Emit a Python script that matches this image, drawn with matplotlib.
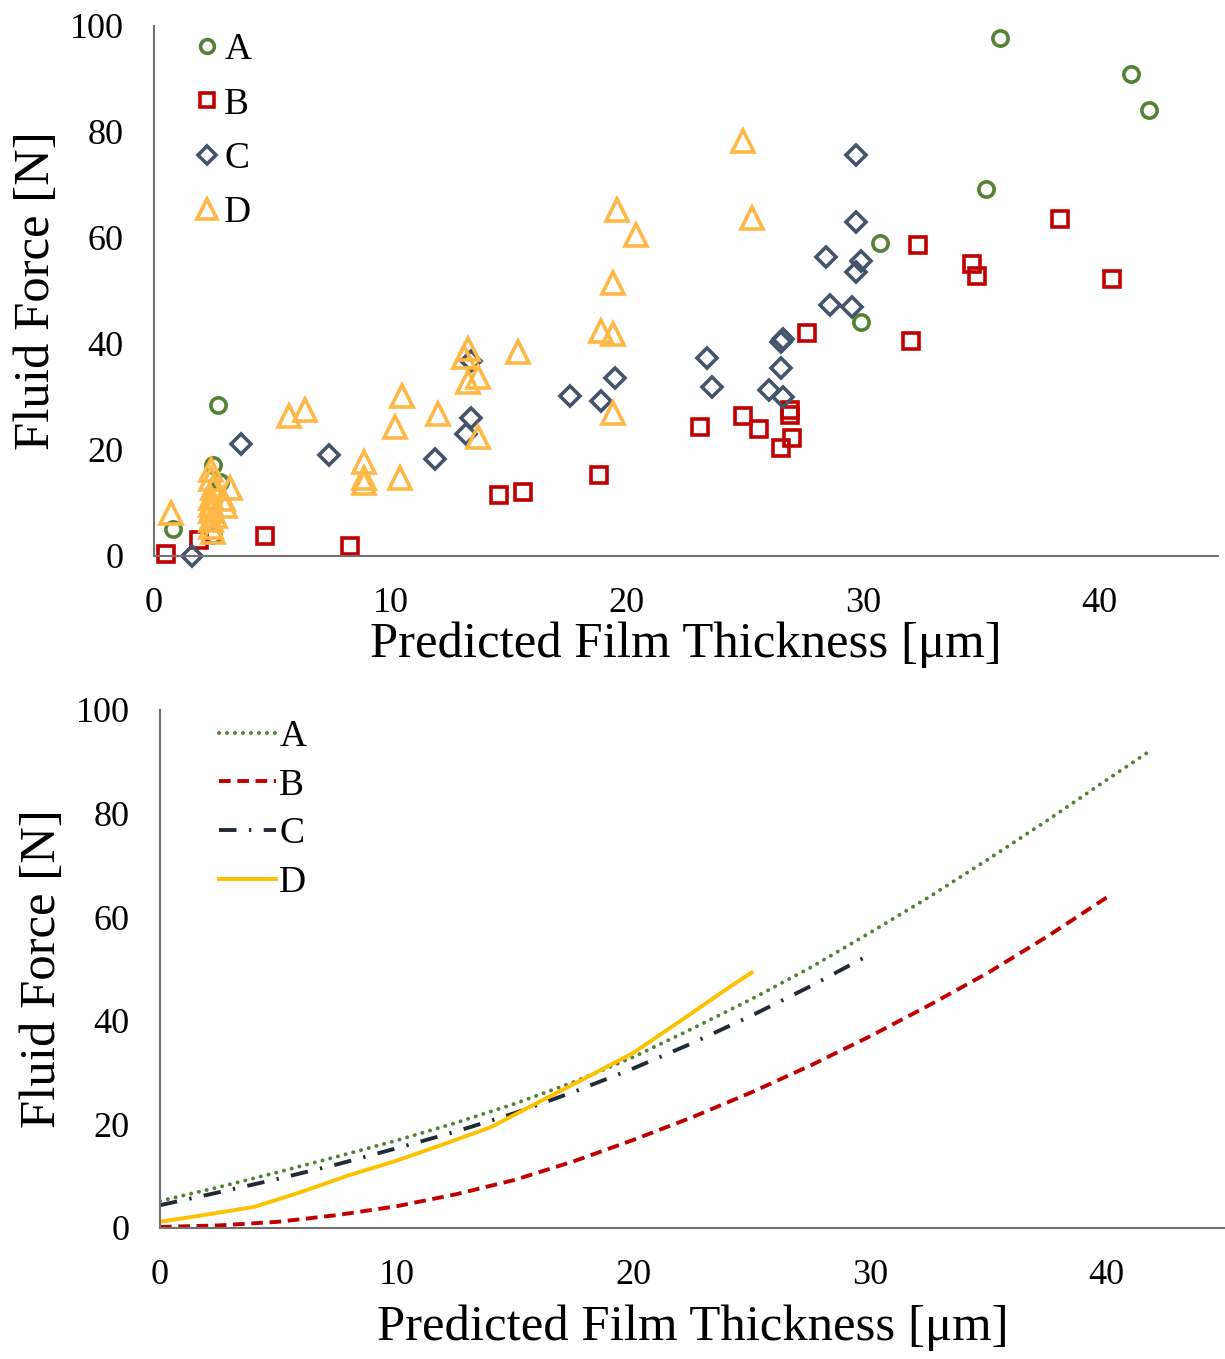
import matplotlib
matplotlib.use('Agg')
import matplotlib.pyplot as plt

plt.rcParams['font.family'] = ['Liberation Serif', 'DejaVu Serif']

# ---- top panel: measured points ----
a_x = [35.8, 41.3, 42.1, 35.2, 30.7, 29.9, 2.7, 2.5, 2.8, 0.8, 2.5]
a_y = [97.7, 90.9, 84.2, 69.2, 59.1, 44.2, 28.5, 17.2, 13.9, 5.1, 4.0]

b_x = [38.3, 32.3, 34.6, 34.8, 40.5, 27.6, 32.0, 26.9, 26.9, 25.6, 27.0, 26.5,
       24.9, 23.1, 18.8, 15.6, 14.6, 4.7, 8.3, 1.9, 0.5]
b_y = [63.6, 58.6, 55.0, 52.8, 52.3, 42.0, 40.6, 27.6, 26.6, 23.9, 22.2, 20.3,
       26.4, 24.4, 15.3, 12.1, 11.5, 3.8, 1.8, 3.0, 0.4]

c_x = [29.7, 29.7, 28.4, 29.9, 29.7, 28.6, 29.5, 26.5, 26.6, 26.5, 26.0, 26.6,
       23.4, 23.6, 19.5, 17.6, 18.9, 13.4, 13.4, 13.2, 3.7, 7.4, 11.9, 1.6]
c_y = [75.6, 63.1, 56.4, 55.7, 53.5, 47.4, 46.9, 40.3, 40.9, 35.4, 31.3, 29.9,
       37.3, 31.9, 33.5, 30.2, 29.2, 36.7, 26.1, 23.0, 21.1, 19.1, 18.3, 0.0]

d_x = [24.9, 25.3, 19.6, 20.4, 19.4, 18.9, 19.4, 15.4, 13.3, 13.1, 13.7, 13.3,
       19.4, 13.7, 10.5, 12.0, 10.2, 6.4, 5.7, 8.9, 8.9, 8.9, 10.4, 0.7,
       2.4, 2.4, 2.5, 3.2, 2.4, 2.9, 2.4, 3.0, 2.4, 2.6, 2.4, 2.4, 2.5]
d_y = [78.2, 63.7, 65.2, 60.6, 51.5, 42.5, 41.8, 38.4, 39.1, 37.5, 33.8, 32.8,
       26.9, 22.5, 30.2, 26.8, 24.4, 27.5, 26.4, 17.8, 14.7, 13.7, 14.8, 8.1,
       16.3, 14.5, 12.8, 12.8, 11.0, 10.8, 9.7, 9.4, 8.4, 7.6, 6.8, 5.5, 4.6]

# ---- bottom panel: curves ----
fa_x = [0, 2.5, 5, 7.5, 10, 12.5, 15, 17.5, 20, 22.5, 25, 27.5, 30, 32.5, 35, 37.5, 40, 41.8]
fa_y = [5.2, 7.9, 10.8, 13.8, 16.9, 20.3, 24.0, 28.2, 33.0, 38.5, 44.2, 50.3, 57.0, 63.9,
        71.2, 78.7, 86.5, 92.0]
fb_x = [0, 2.5, 5, 7.5, 10, 12.5, 15, 17.5, 20, 22.5, 25, 27.5, 30, 32.5, 35, 37.5, 40]
fb_y = [0.2, 0.5, 1.2, 2.5, 4.2, 6.5, 9.3, 12.9, 17.0, 21.4, 26.2, 31.4, 37.0, 43.0,
        49.3, 56.3, 63.8]
fc_x = [0, 2.5, 5, 7.5, 10, 12.5, 15, 17.5, 20, 22.5, 25, 27.5, 30]
fc_y = [4.4, 6.9, 9.5, 12.3, 15.4, 18.6, 22.2, 26.3, 30.8, 35.7, 41.0, 46.7, 52.8]
fd_x = [0, 2, 4, 6, 8, 10, 12, 14, 16, 18, 20, 22, 24, 25]
fd_y = [1.2, 2.6, 4.1, 7.0, 10.2, 13.0, 16.2, 19.5, 24.3, 29.0, 33.8, 40.0, 46.3, 49.3]

labels = ['A', 'B', 'C', 'D']
green = '#548235'
red = '#C00000'
slate = '#44546A'
dark = '#222A35'
orange_m = '#FFB845'
gold = '#FFC000'
spine_color = '#767171'

fig = plt.figure(figsize=(12.25, 13.59), dpi=100)
ax1 = fig.add_axes([0.1257, 0.5909, 0.8686, 0.39])
ax2 = fig.add_axes([0.1306, 0.0964, 0.8694, 0.3812])


def style_axis(ax):
    ax.spines['right'].set_visible(False)
    ax.spines['top'].set_visible(False)
    ax.spines['left'].set_color(spine_color)
    ax.spines['bottom'].set_color(spine_color)
    ax.spines['left'].set_linewidth(1.5)
    ax.spines['bottom'].set_linewidth(1.5)
    ax.set_xlim(0, 45)
    ax.set_ylim(0, 100)
    ax.set_xticks([0, 10, 20, 30, 40])
    ax.set_yticks([0, 20, 40, 60, 80, 100])
    ax.tick_params(length=0, labelsize=26, pad=22)
    ax.set_xlabel('Predicted Film Thickness [μm]', fontsize=36.5)
    ax.set_ylabel('Fluid Force [N]', fontsize=36.5)


#top scatter
ms = 11
mew = 2.6
ax1.plot(a_x, a_y, 'o', ls='none', ms=ms, mfc='none', mec=green, mew=mew, label=labels[0], clip_on=False)
ax1.plot(b_x, b_y, 's', ls='none', ms=ms, mfc='none', mec=red, mew=mew, label=labels[1], clip_on=False)
ax1.plot(c_x, c_y, 'D', ls='none', ms=ms * 0.95, mfc='none', mec=slate, mew=mew, label=labels[2], clip_on=False)
ax1.plot(d_x, d_y, '^', ls='none', ms=ms * 1.4, mfc='none', mec=orange_m, mew=mew, label=labels[3], clip_on=False)
style_axis(ax1)
ax1.xaxis.set_label_coords(0.5, -0.168)
ax1.xaxis.label.set_va('center')
ax1.yaxis.set_label_coords(-0.11, 0.5)
ax1.yaxis.label.set_va('center')
ax1.legend(loc='upper left', bbox_to_anchor=(0.008, 1.051), frameon=False, fontsize=27,
           handlelength=0.6, handletextpad=0.15, labelspacing=0.53, markerscale=0.9)

#bottom curves
lw = 2.8
ax2.plot(fa_x, fa_y, color=green, lw=lw, ls=(0, (0.05, 2.0)), dash_capstyle='round', label=labels[0])
ax2.plot(fb_x, fb_y, color=red, lw=lw, ls=(0, (3.0, 1.7)), label=labels[1])
ax2.plot(fc_x, fc_y, color=dark, lw=lw, ls=(0, (4.5, 3.2, 0.6, 3.2)), label=labels[2])
ax2.plot(fd_x, fd_y, color=gold, lw=lw, ls='-', label=labels[3])
style_axis(ax2)
ax2.xaxis.set_label_coords(0.5, -0.193)
ax2.xaxis.label.set_va('center')
ax2.yaxis.set_label_coords(-0.11, 0.5)
ax2.yaxis.label.set_va('center')
ax2.legend(loc='upper left', bbox_to_anchor=(0.024, 1.047), frameon=False, fontsize=27,
           handlelength=1.5, handletextpad=0.1, labelspacing=0.38)

fig.savefig('out.png', dpi=100)
